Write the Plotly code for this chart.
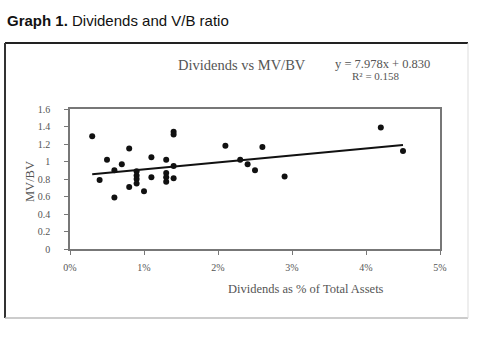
import plotly.graph_objects as go

# Data (dividends as % of total assets, MV/BV)
div_pct = [0.3, 0.4, 0.5, 0.6, 0.6, 0.7, 0.8, 0.8, 0.9, 0.9, 0.9, 0.9, 1.0, 1.1, 1.1,
           1.3, 1.3, 1.3, 1.3, 1.4, 1.4, 1.4, 1.4, 2.1, 2.3, 2.4, 2.5, 2.6, 2.9, 4.2, 4.5]
mv_bv = [1.29, 0.79, 1.02, 0.90, 0.59, 0.97, 1.15, 0.71, 0.89, 0.84, 0.80, 0.75, 0.66, 1.05, 0.82,
         1.02, 0.87, 0.82, 0.77, 1.34, 1.31, 0.95, 0.81, 1.18, 1.02, 0.97, 0.90, 1.165, 0.83, 1.39, 1.12]
div_frac = [v / 100 for v in div_pct]

slope = 7.978
intercept = 0.830
trend_x = [min(div_frac), max(div_frac)]
trend_y = [slope * v + intercept for v in trend_x]

x_ticks = [0, 0.01, 0.02, 0.03, 0.04, 0.05]
y_ticks = [0, 0.2, 0.4, 0.6, 0.8, 1, 1.2, 1.4, 1.6]

W, H = 502, 337
L, R, T, B = 70, 440, 109, 249  # plot area in pixels


def px(x):
    return (x - L) / (R - L)


def py(y):
    return (B - y) / (B - T)


serif = "Liberation Serif"
gray_txt = "#555555"

fig = go.Figure()
fig.add_trace(go.Scatter(x=trend_x, y=trend_y, mode="lines",
                         line=dict(color="#111111", width=2), hoverinfo="skip"))
fig.add_trace(go.Scatter(x=div_frac, y=mv_bv, mode="markers",
                         marker=dict(color="#111111", size=6, symbol="circle")))

fig.update_layout(
    width=W, height=H,
    margin=dict(l=L, r=W - R, t=T, b=H - B),
    paper_bgcolor="white", plot_bgcolor="white",
    showlegend=False,
    font=dict(family=serif, size=10, color=gray_txt),
)
fig.update_xaxes(range=[0, 0.05], tickvals=x_ticks, tickformat=".0%",
                 showgrid=False, zeroline=False,
                 showline=True, linecolor="#777777", linewidth=1.5, mirror=True,
                 ticks="outside", ticklen=4, tickcolor="#777777",
                 tickfont=dict(family=serif, size=10, color=gray_txt), ticklabelstandoff=4)
fig.update_yaxes(range=[0, 1.6], tickvals=y_ticks,
                 showgrid=False, zeroline=False,
                 showline=True, linecolor="#777777", linewidth=1.5, mirror=True,
                 ticks="outside", ticklen=4, tickcolor="#777777",
                 tickfont=dict(family=serif, size=10, color=gray_txt), ticklabelstandoff=12)

# Outer frame
fig.add_shape(type="line", xref="paper", yref="paper", x0=px(5), x1=px(468), y0=py(43), y1=py(43),
              line=dict(color="#222222", width=2))
fig.add_shape(type="line", xref="paper", yref="paper", x0=px(5), x1=px(5), y0=py(43), y1=py(318),
              line=dict(color="#333333", width=2))
fig.add_shape(type="line", xref="paper", yref="paper", x0=px(5), x1=px(468), y0=py(318), y1=py(318),
              line=dict(color="#bbbbbb", width=1.5))
fig.add_shape(type="line", xref="paper", yref="paper", x0=px(468), x1=px(468), y0=py(43), y1=py(318),
              line=dict(color="#dddddd", width=1))

# Header
fig.add_annotation(text="<b>Graph 1.</b> Dividends and V/B ratio", xref="paper", yref="paper",
                   x=px(5), y=py(20), xanchor="left", yanchor="middle", showarrow=False,
                   font=dict(family="Liberation Sans", size=15, color="#111111"))
# Chart title
fig.add_annotation(text="Dividends vs MV/BV", xref="paper", yref="paper",
                   x=px(242), y=py(65), xanchor="center", yanchor="middle", showarrow=False,
                   font=dict(family=serif, size=14.5, color=gray_txt))
# Equation
fig.add_annotation(text="y = 7.978x + 0.830", xref="paper", yref="paper",
                   x=px(382), y=py(64), xanchor="center", yanchor="middle", showarrow=False,
                   font=dict(family=serif, size=12.5, color=gray_txt))
fig.add_annotation(text="R² = 0.158", xref="paper", yref="paper",
                   x=px(376), y=py(76), xanchor="center", yanchor="middle", showarrow=False,
                   font=dict(family=serif, size=11, color=gray_txt))
# Axis titles
fig.add_annotation(text="MV/BV", xref="paper", yref="paper", textangle=-90,
                   x=px(30), y=py(182), xanchor="center", yanchor="middle", showarrow=False,
                   font=dict(family=serif, size=12.5, color=gray_txt))
fig.add_annotation(text="Dividends as % of Total Assets", xref="paper", yref="paper",
                   x=px(306), y=py(289), xanchor="center", yanchor="middle", showarrow=False,
                   font=dict(family=serif, size=12.5, color=gray_txt))

fig.write_html("out.html", config={"displayModeBar": False},
               post_script="document.body.style.margin='0';")
